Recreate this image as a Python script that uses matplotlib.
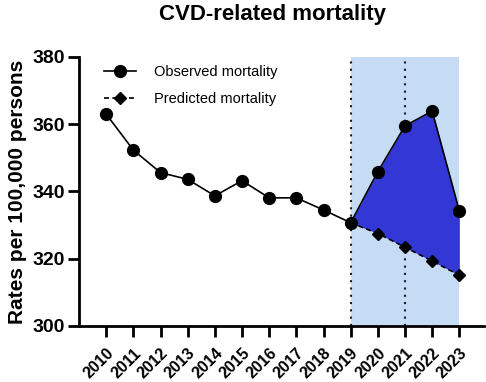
import numpy as np
import matplotlib.pyplot as plt

plt.rcParams['font.family'] = ['Liberation Sans', 'DejaVu Sans']

#===========================
# DATA
#===========================
years = np.arange(2010, 2024)
observed = [363.0, 352.3, 345.6, 343.6, 338.7, 343.2, 338.1, 338.1, 334.5, 330.7, 345.9, 359.5, 363.9, 334.2]
pred_years = np.arange(2019, 2024)
predicted = [330.7, 327.5, 323.4, 319.3, 315.1]
yticks = [300, 320, 340, 360, 380]

#===========================
# PLOT
#===========================
fig = plt.figure(figsize=(4.86, 3.82), dpi=100)
ax = fig.add_axes([0.1626, 0.1466, 0.834, 0.7044])

ax.axvspan(2019, 2023, color='#c6dcf4', zorder=0, lw=0)
ax.axvline(2019, color='#1a1a2e', ls=(0, (1, 2.5)), lw=1.5, zorder=1)
ax.axvline(2021, color='#1a1a2e', ls=(0, (1, 2.5)), lw=1.5, zorder=1)

obs_tail = np.array(observed[-5:])
ax.fill_between(pred_years, predicted, obs_tail, color='#3237d6', lw=0, zorder=2)

ax.plot(years, observed, color='black', lw=1.2, marker='o', ms=8.5,
        label='Observed mortality', zorder=4)
ax.plot(pred_years, predicted, color='black', lw=1.2, ls=(0, (3, 2)), marker='D', ms=6,
        label='Predicted mortality', zorder=3)

ax.set_xlim(2009.0, 2023.92)
ax.set_ylim(300, 380)
ax.set_yticks(yticks)
ax.set_xticks(years)
ax.set_xticklabels([str(y) for y in years], rotation=45, ha='right', rotation_mode='anchor',
                   fontsize=11.5, fontweight='bold')
for lab in ax.get_yticklabels():
    lab.set_fontsize(14)
    lab.set_fontweight('bold')

ax.spines['top'].set_visible(False)
ax.spines['right'].set_visible(False)
ax.spines['left'].set_linewidth(2)
ax.spines['bottom'].set_linewidth(2)
ax.tick_params(axis='both', direction='out', length=8, width=2, pad=2)
ax.tick_params(axis='x', pad=6)

ax.set_ylabel('Rates per 100,000 persons', fontsize=15, fontweight='bold', labelpad=4)
fig.suptitle('CVD-related mortality', fontsize=16, fontweight='bold', x=0.56, y=0.99)

ax.legend(loc='upper left', bbox_to_anchor=(0.03, 1.02), frameon=False, fontsize=10.5,
          handlelength=2.2, labelspacing=0.9, handletextpad=1.2)

fig.savefig('out.png', dpi=100)
